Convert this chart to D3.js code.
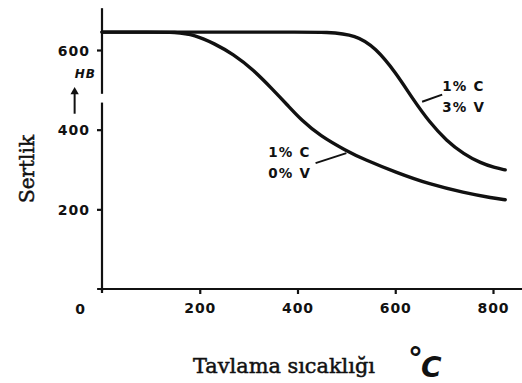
<!DOCTYPE html>
<html>
<head>
<meta charset="utf-8">
<script src="https://cdn.jsdelivr.net/npm/d3@7"></script>
<style>
  html, body { margin: 0; padding: 0; background: #fff; }
  svg { display: block; }
</style>
</head>
<body>
<svg id="chart" width="522" height="383"></svg>
<script>
// Annealing temperature (°C) vs. hardness (HB) for two steels
const tempsHighV = [0, 100, 200, 300, 400, 460, 520, 560, 600, 637, 670, 705, 740, 775, 805, 825];
const hardHighV  = [645, 645, 645, 645, 645, 645, 638, 605, 545, 475, 419, 372, 339, 316, 304, 299];

const tempsNoV = [0, 100, 150, 190, 230, 268, 310, 350, 380, 408, 446, 500, 535, 603, 670, 740, 800, 825];
const hardNoV  = [645, 645, 645, 638, 616, 590, 550, 500, 461, 424, 385, 347, 326, 292, 263, 242, 228, 224];

const xTickValues = [200, 400, 600, 800];
const yTickValues = [200, 400, 600];

const labelHighV = ["1% C", "3% V"];
const labelNoV   = ["1% C", "0% V"];

const yTitle = "Sertlik";
const xTitle = "Tavlama sıcaklığı";
const unitY  = "HB";

const svg = d3.select("#chart");
const ink = "#111";

const x = d3.scaleLinear().domain([0, 800]).range([102, 493]);
const y = d3.scaleLinear().domain([0, 600]).range([289, 50]);

// Axis lines (y axis has a small break beside the HB arrow)
const axisG = svg.append("g").attr("stroke", ink).attr("stroke-width", 2.2).attr("fill", "none");
axisG.append("line").attr("x1", x(0)).attr("x2", x(0)).attr("y1", y(705)).attr("y2", y(490));
axisG.append("line").attr("x1", x(0)).attr("x2", x(0)).attr("y1", y(468)).attr("y2", y(-5));
axisG.append("line").attr("x1", x(-10)).attr("x2", x(860)).attr("y1", y(0)).attr("y2", y(0));

const tickFont = "'DejaVu Sans', sans-serif";

// Y ticks
const yAxis = d3.axisLeft(y).tickValues(yTickValues).tickSize(5).tickPadding(7).tickFormat(d3.format("d"));
const gy = svg.append("g").attr("transform", `translate(${x(0)},0)`).call(yAxis);
gy.select(".domain").remove();
gy.selectAll(".tick line").attr("stroke", ink).attr("stroke-width", 2.2);
gy.selectAll(".tick text")
  .attr("fill", ink).attr("font-family", tickFont).attr("font-weight", "bold")
  .attr("font-size", 14).attr("letter-spacing", 1).attr("dy", "0.36em");

// X ticks
const xAxis = d3.axisBottom(x).tickValues(xTickValues).tickSize(5).tickPadding(9).tickFormat(d3.format("d"));
const gx = svg.append("g").attr("transform", `translate(0,${y(0)})`).call(xAxis);
gx.select(".domain").remove();
gx.selectAll(".tick line").attr("stroke", ink).attr("stroke-width", 2.2);
gx.selectAll(".tick text")
  .attr("fill", ink).attr("font-family", tickFont).attr("font-weight", "bold")
  .attr("font-size", 14).attr("letter-spacing", 1);

// origin label sits left of the y axis
svg.append("text")
  .attr("x", x(-45)).attr("y", y(0) + 25)
  .attr("text-anchor", "middle")
  .attr("fill", ink).attr("font-family", tickFont).attr("font-weight", "bold")
  .attr("font-size", 14).text("0");
svg.append("line").attr("x1", x(0)).attr("x2", x(0)).attr("y1", y(0)).attr("y2", y(0) + 4)
  .attr("stroke", ink).attr("stroke-width", 2.2);

// Hardness curves
const line = d3.line().x(d => x(d[0])).y(d => y(d[1])).curve(d3.curveBasis);
const curves = [
  d3.zip(tempsHighV, hardHighV),
  d3.zip(tempsNoV, hardNoV)
];
svg.append("g").selectAll("path").data(curves).join("path")
  .attr("d", line)
  .attr("fill", "none").attr("stroke", ink).attr("stroke-width", 3.4)
  .attr("stroke-linecap", "round").attr("stroke-linejoin", "round");

// Curve annotations with leader lines
const labelFont = "'DejaVu Sans', sans-serif";
function annotate(lines, tx, ty, from, to) {
  svg.append("line")
    .attr("x1", x(from[0])).attr("y1", y(from[1]))
    .attr("x2", x(to[0])).attr("y2", y(to[1]))
    .attr("stroke", ink).attr("stroke-width", 2);
  const t = svg.append("text")
    .attr("fill", ink).attr("font-family", labelFont).attr("font-weight", "bold")
    .attr("font-size", 13.5).attr("letter-spacing", 1.2);
  lines.forEach((s, i) => {
    t.append("tspan").attr("x", x(tx)).attr("y", y(ty) + i * 21).text(s);
  });
}
annotate(labelHighV, 696, 497, [655, 470], [696, 488]);
annotate(labelNoV, 340, 332, [437, 316], [500, 341]);

// HB unit with upward arrow
svg.append("text")
  .attr("x", x(-34)).attr("y", y(530))
  .attr("text-anchor", "middle")
  .attr("fill", ink).attr("font-family", labelFont).attr("font-weight", "bold")
  .attr("font-style", "italic").attr("font-size", 12).attr("letter-spacing", 1)
  .text(unitY);
svg.append("line")
  .attr("x1", x(-56)).attr("x2", x(-56)).attr("y1", y(440)).attr("y2", y(495))
  .attr("stroke", ink).attr("stroke-width", 2);
svg.append("path")
  .attr("d", d3.symbol(d3.symbolTriangle, 30)())
  .attr("transform", `translate(${x(-56)},${y(495)})`)
  .attr("fill", ink);

// Axis titles
const serif = "'DejaVu Serif', serif";
svg.append("text")
  .attr("transform", `translate(34,169) rotate(-90)`)
  .attr("text-anchor", "middle")
  .attr("fill", ink).attr("stroke", ink).attr("stroke-width", 0.5)
  .attr("font-family", serif).attr("font-size", 20).text(yTitle);

svg.append("text")
  .attr("x", 193).attr("y", 373)
  .attr("fill", ink).attr("stroke", ink).attr("stroke-width", 0.5)
  .attr("font-family", serif)
  .attr("font-size", 20).attr("textLength", 182).attr("lengthAdjust", "spacingAndGlyphs")
  .text(xTitle);

const unit = svg.append("text")
  .attr("x", 0).attr("y", 0)
  .attr("fill", ink).attr("font-family", "'DejaVu Sans', sans-serif")
  .attr("font-weight", "bold")
  .attr("transform", "translate(408,377)");
unit.append("tspan").attr("font-size", 30).attr("dy", -8).text("°");
unit.append("tspan").attr("font-size", 28).attr("font-style", "italic").attr("dy", 8).attr("dx", -2).text("C");
</script>
</body>
</html>
